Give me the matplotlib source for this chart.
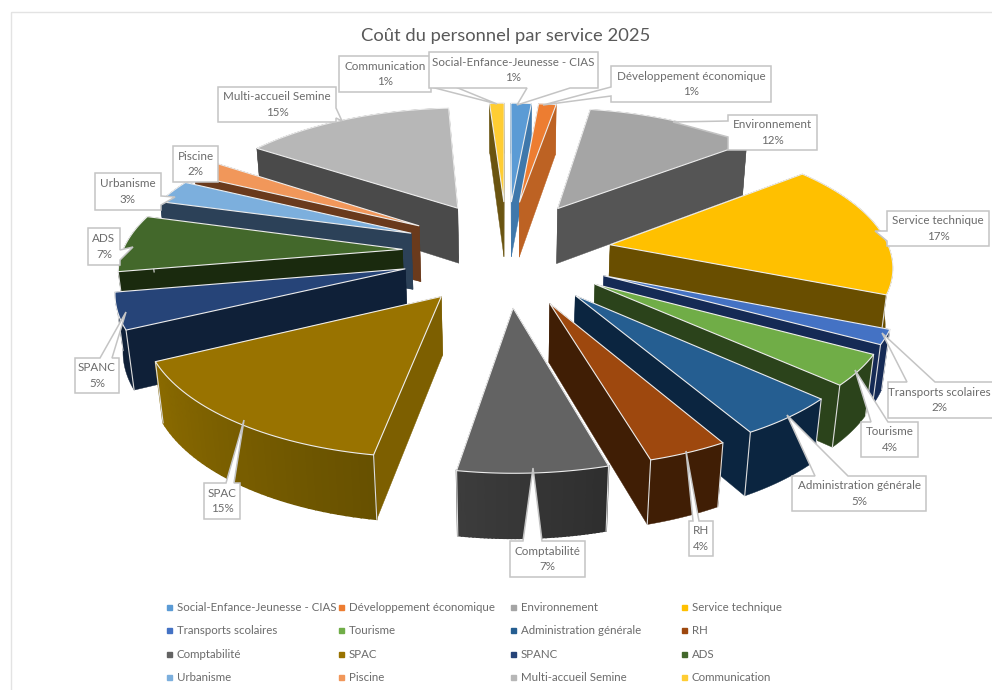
import numpy as np
import matplotlib
matplotlib.use("Agg")
import matplotlib.pyplot as plt
from matplotlib.patches import Polygon, Rectangle
from matplotlib.lines import Line2D
from matplotlib.legend import Legend

categories = ["Social-Enfance-Jeunesse - CIAS", "Développement économique", "Environnement",
              "Service technique", "Transports scolaires", "Tourisme", "Administration générale",
              "RH", "Comptabilité", "SPAC", "SPANC", "ADS", "Urbanisme", "Piscine",
              "Multi-accueil Semine", "Communication"]
values = [1.4, 1.2, 11.7, 17.0, 1.8, 3.8, 4.9, 3.8, 7.05, 15.05, 4.5, 7.2, 3.0, 2.2, 14.4, 1.0]
percent_labels = [1, 1, 12, 17, 2, 4, 5, 4, 7, 15, 5, 7, 3, 2, 15, 1]
title = "Coût du personnel par service 2025"

top_colors = ["#5B9BD5", "#ED7D31", "#A5A5A5", "#FFC000", "#4472C4", "#70AD47", "#255E91", "#9E480E",
              "#636363", "#997300", "#264478", "#43682B", "#7CAFDD", "#F1975A", "#B7B7B7", "#FFCD33"]
wall_colors = ["#3F78AB", "#BD6223", "#555555", "#694E00", "#152A55", "#2B431B", "#0B2540", "#401E05",
               "#333333", "#7D5F00", "#0F2038", "#1A2A0E", "#2C4158", "#6A3A1C", "#4A4A4A", "#6A5410"]
arc_colors = {9: ("#8A6A00", "#665000"), 8: ("#3C3C3C", "#2E2E2E")}

plt.rcParams['font.family'] = ['Lato', 'DejaVu Sans']
fig = plt.figure(figsize=(9.92, 6.90), dpi=100)
ax = fig.add_axes([0, 0, 1, 1])
ax.set_xlim(0, 992)
ax.set_ylim(690, 0)
ax.axis("off")

# projection of the tilted exploded pie
CX, CY, SX, SY, SZ, PERSP, PERSP_Z = 507, 252, 280, 129, 58, 0.142, 0.02
EXPLODE_U, EXPLODE_V, RADIUS_V = 0.375, 0.41, 0.97


def proj(u, v, z=0.0):
    w = 1 - PERSP * v + PERSP_Z * z
    return CX + SX * u / w, CY + (SY * v + SZ * z) / w


fractions = np.array(values) / sum(values)
edges = np.concatenate([[0], np.cumsum(fractions)]) * 2 * np.pi
order = sorted(range(len(values)), key=lambda i: -np.cos((edges[i] + edges[i + 1]) / 2))
z0 = 2
for i in order:
    t0, t1 = edges[i], edges[i + 1]
    tm = (t0 + t1) / 2
    du, dv = EXPLODE_U * np.sin(tm), -EXPLODE_V * np.cos(tm)
    th = np.linspace(t0, t1, 40)
    ou, ov = du + np.sin(th), dv - RADIUS_V * np.cos(th)
    top = np.array([proj(du, dv)] + [proj(a, b) for a, b in zip(ou, ov)])
    bot = np.array([proj(du, dv, 1)] + [proj(a, b, 1) for a, b in zip(ou, ov)])
    sides = [np.array([top[0], top[1], bot[1], bot[0]]), np.array([top[0], top[-1], bot[-1], bot[0]])]
    sides.sort(key=lambda s: s[:, 1].mean())
    for s in sides:
        ax.add_patch(Polygon(s, closed=True, fc=wall_colors[i], ec=wall_colors[i], lw=0.3, zorder=z0))
        z0 += 1
    if i in arc_colors:
        c0, c1 = (np.array(matplotlib.colors.to_rgb(c)) for c in arc_colors[i])
        for k in range(1, len(top) - 1):
            col = c0 + (c1 - c0) * (1 - k / (len(top) - 2))
            q = np.array([top[k], top[k + 1], bot[k + 1], bot[k]])
            ax.add_patch(Polygon(q, closed=True, fc=col, ec=col, lw=1.2, zorder=z0))
            z0 += 1
    else:
        arc = np.vstack([top[1:], bot[:0:-1]])
        ax.add_patch(Polygon(arc, closed=True, fc=wall_colors[i], ec=wall_colors[i], lw=0.3, zorder=z0))
        z0 += 1
    if np.cos(tm) < 0.2:
        for k in (1, -1):
            ax.add_line(Line2D([top[k, 0], bot[k, 0]], [top[k, 1], bot[k, 1]], color="#DDDDDD", lw=0.8, zorder=z0))
    z0 += 1
    ax.add_patch(Polygon(top, closed=True, fc=top_colors[i], ec="#EDEDED", lw=0.8, zorder=z0))
    z0 += 1

# chart frame and title
ax.add_patch(Rectangle((11, 12), 1000, 700, fc="none", ec="#E3E3E3", lw=1.0, zorder=1))
z0 += 1

# callouts: box (x0, y0, x1, y1), wedge base points, wedge target
callouts = {
    14: ((218, 87, 336, 122), (336, 108), (336, 118), (342, 121)),
    13: ((173, 146, 218, 182), None, None, None),
    12: ((95, 173, 161, 210), (161, 196), (161, 205), (175, 197)),
    11: ((88, 228, 120, 265), (120, 250), (120, 260), (133, 247)),
    10: ((75, 358, 119, 393), (100, 358), (112, 358), (126, 312)),
    9: ((204, 483, 240, 519), (226, 483), (234, 483), (244, 420)),
    8: ((510, 541, 585, 577), (523, 541), (542, 541), (533, 468)),
    7: ((689, 521, 713, 556), (693, 521), (699, 521), (686, 451)),
    6: ((792, 476, 926, 511), (815, 476), (848, 476), (787, 415)),
    5: ((861, 422, 918, 457), (871, 422), (888, 422), (855, 370)),
    4: ((888, 382, 1010, 418), (907, 382), (935, 382), (882, 333)),
    3: ((887, 211, 989, 246), (887, 231), (887, 241), (875, 231)),
    2: ((728, 115, 817, 150), (728, 121), (728, 137), (673, 122)),
    1: ((611, 66, 771, 102), (611, 87), (611, 96), (543, 105)),
    15: ((339, 56, 431, 92), (431, 77), (431, 87), (497, 104)),
    0: ((429, 52, 598, 88), (527, 88), (570, 88), (517, 105)),
}
for i, (box, b1, b2, tgt) in callouts.items():
    x0, y0, x1, y1 = box
    pts = [(x0, y0)]
    if b1 and y0 == b1[1]:
        pts += [b1, tgt, b2]
    pts.append((x1, y0))
    if b1 and x1 == b1[0]:
        pts += [b1, tgt, b2]
    pts.append((x1, y1))
    if b1 and y1 == b1[1]:
        pts += [b2, tgt, b1]
    pts.append((x0, y1))
    if b1 and x0 == b1[0]:
        pts += [b2, tgt, b1]
    z0 += 1
    ax.add_patch(Polygon(pts, closed=True, fc="white", ec="#C4C4C4", lw=1.1, zorder=z0))
    xc = (x0 + x1) / 2 if x1 < 1000 else 939
    ax.text(xc, (y0 + y1) / 2, f"{categories[i]}\n{percent_labels[i]}%", ha="center", va="center",
            fontsize=8.35, color="#6B6B6B", linespacing=1.5, zorder=z0 + 0.5)

ax.text(506, 36, title, ha="center", va="center", fontsize=13.2, color="#595959", zorder=z0 + 1)

# legend: four fixed columns
col_x = [166, 338, 510, 681]
for c, x in enumerate(col_x):
    idx = [c, c + 4, c + 8, c + 12]
    handles = [Line2D([], [], ls="", marker="s", ms=3.6, color=top_colors[j]) for j in idx]
    leg = Legend(ax, handles, [categories[j] for j in idx], loc="upper left",
                 bbox_to_anchor=(x, 602), bbox_transform=ax.transData, frameon=False,
                 fontsize=8.25, labelcolor="#6B6B6B", labelspacing=1.08, borderpad=0, borderaxespad=0,
                 handlelength=0.6, handletextpad=0.35)
    leg.set_zorder(z0 + 2)
    ax.add_artist(leg)

fig.savefig("out.png", dpi=100)
